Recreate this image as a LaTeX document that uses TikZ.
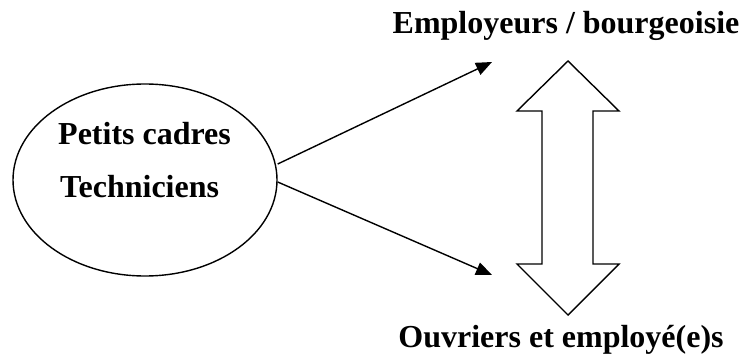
\documentclass[tikz,border=0pt]{standalone}
\usepackage{fontspec}
\setmainfont{Liberation Serif}
\usetikzlibrary{arrows.meta}
\usetikzlibrary{shapes.geometric}
\tikzset{
    label text/.style={font=\fontsize{32}{38}\selectfont\bfseries, inner sep=0pt},
    link/.style={line width=1.4pt, -{Triangle[length=16pt,width=13pt]}}
}
\begin{document}
\begin{tikzpicture}[x=1pt,y=-1pt]
    	\useasboundingbox (0,0) rectangle (743,358);
    	\node[draw, line width=1.4pt, ellipse, minimum width=264pt, minimum height=192pt] (cadres) at (145,180) {};
    	\node[label text, anchor=west] (petits) at (58,134) {Petits cadres};
    	\node[label text, anchor=west] (techn) at (60,187) {Techniciens};
    	\node[label text] (employeurs) at (566,26) {Employeurs / bourgeoisie};
    	\node[label text] (ouvriers) at (561,340) {Ouvriers et employé(e)s};
    	\coordinate (haut) at (492,62);
    	\coordinate (bas) at (492,275);
    	\draw[link] (cadres.east) ++(0,-16) -- (haut);
    	\draw[link] (cadres.east) ++(0,2) -- (bas);
    	% double fleche
    	\draw[line width=1.4pt, line join=miter] (568,61) -- (619,111) -- (593,111) -- (593,264) -- (619,264)
    	    -- (568,315) -- (517,264) -- (542,264) -- (542,111) -- (517,111) -- cycle;
\end{tikzpicture}
\end{document}
